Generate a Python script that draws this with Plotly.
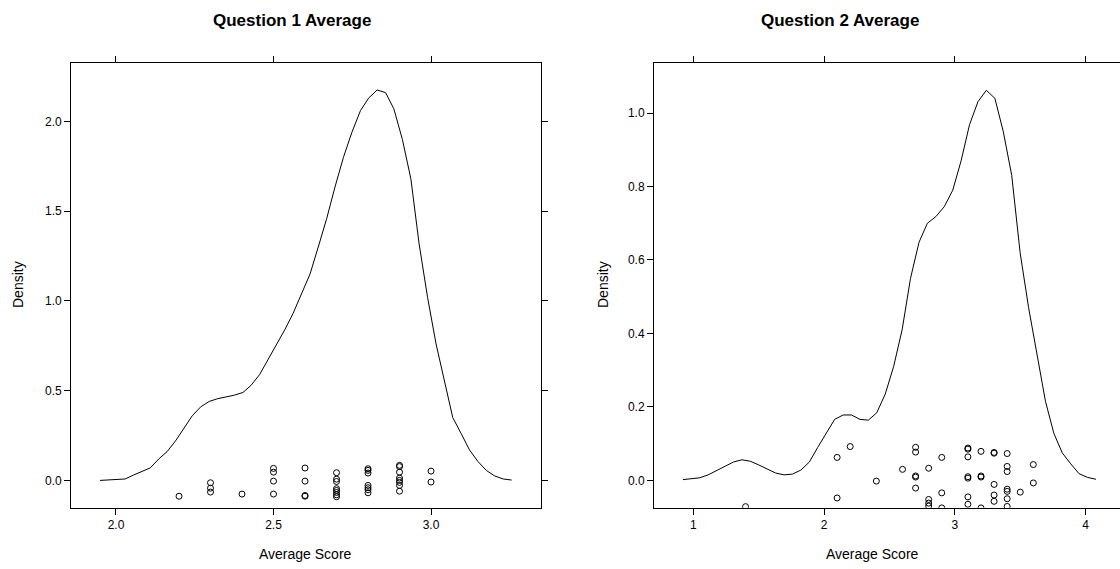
import plotly.graph_objects as go

W, H = 1120, 569

# ---------------- data ----------------
q1_density_x = [1.949, 1.976, 2.002, 2.029, 2.056, 2.082, 2.109, 2.136, 2.162, 2.189,
                2.216, 2.242, 2.269, 2.296, 2.322, 2.349, 2.376, 2.403, 2.429, 2.456,
                2.482, 2.509, 2.536, 2.562, 2.589, 2.616, 2.642, 2.669, 2.696, 2.722,
                2.749, 2.776, 2.802, 2.829, 2.856, 2.882, 2.909, 2.936, 2.962, 2.989,
                3.016, 3.042, 3.069, 3.096, 3.122, 3.149, 3.176, 3.202, 3.229, 3.256]
q1_density_y = [0.000, 0.002, 0.004, 0.008, 0.030, 0.050, 0.070, 0.120, 0.160, 0.220,
                0.290, 0.360, 0.410, 0.440, 0.455, 0.465, 0.475, 0.490, 0.530, 0.590,
                0.670, 0.760, 0.840, 0.930, 1.040, 1.150, 1.300, 1.460, 1.640, 1.800,
                1.940, 2.060, 2.130, 2.175, 2.160, 2.070, 1.900, 1.680, 1.320, 1.020,
                0.760, 0.550, 0.350, 0.260, 0.170, 0.105, 0.055, 0.025, 0.008, 0.002]

q1_points_x = [2.2,
               2.3, 2.3, 2.3,
               2.4,
               2.5, 2.5, 2.5, 2.5,
               2.6, 2.6, 2.6, 2.6,
               2.7, 2.7, 2.7, 2.7, 2.7, 2.7, 2.7, 2.7,
               2.8, 2.8, 2.8, 2.8, 2.8, 2.8, 2.8,
               2.9, 2.9, 2.9, 2.9, 2.9, 2.9, 2.9, 2.9,
               3.0, 3.0]
q1_points_y = [-0.088,
               -0.013, -0.043, -0.065,
               -0.076,
               0.067, 0.046, -0.004, -0.076,
               0.069, -0.004, -0.084, -0.088,
               0.043, 0.007, -0.006, -0.046, -0.056, -0.067, -0.080, -0.091,
               0.065, 0.056, 0.041, -0.028, -0.041, -0.052, -0.069,
               0.084, 0.077, 0.046, 0.013, 0.000, -0.011, -0.028, -0.060,
               0.052, -0.009]

q2_density_x = [0.921, 0.985, 1.050, 1.114, 1.179, 1.243, 1.308, 1.372, 1.437, 1.501,
                1.566, 1.630, 1.694, 1.759, 1.823, 1.888, 1.952, 2.017, 2.081, 2.146,
                2.210, 2.275, 2.339, 2.403, 2.468, 2.532, 2.597, 2.661, 2.726, 2.790,
                2.855, 2.919, 2.984, 3.048, 3.112, 3.177, 3.241, 3.306, 3.370, 3.435,
                3.499, 3.564, 3.628, 3.693, 3.757, 3.821, 3.886, 3.950, 4.015, 4.079]
q2_density_y = [0.002, 0.004, 0.007, 0.015, 0.027, 0.039, 0.050, 0.056, 0.052, 0.042,
                0.030, 0.020, 0.015, 0.017, 0.028, 0.050, 0.090, 0.130, 0.166, 0.178,
                0.178, 0.166, 0.164, 0.184, 0.235, 0.310, 0.410, 0.550, 0.648, 0.700,
                0.718, 0.745, 0.790, 0.870, 0.968, 1.031, 1.062, 1.040, 0.950, 0.830,
                0.620, 0.470, 0.338, 0.215, 0.128, 0.075, 0.045, 0.018, 0.008, 0.003]

q2_points_x = [1.4,
               2.1, 2.1,
               2.2,
               2.4,
               2.6,
               2.7, 2.7, 2.7, 2.7, 2.7,
               2.8, 2.8, 2.8, 2.8,
               2.9, 2.9, 2.9,
               3.1, 3.1, 3.1, 3.1, 3.1, 3.1, 3.1,
               3.2, 3.2, 3.2, 3.2,
               3.3, 3.3, 3.3, 3.3, 3.3,
               3.4, 3.4, 3.4, 3.4, 3.4, 3.4, 3.4,
               3.5,
               3.6, 3.6]
q2_points_y = [-0.0715,
               0.0625, -0.048,
               0.092,
               -0.002,
               0.030,
               0.090, 0.077, 0.012, 0.009, -0.021,
               0.033, -0.052, -0.062, -0.070,
               0.0625, -0.034, -0.075,
               0.088, 0.085, 0.064, 0.010, 0.006, -0.045, -0.065,
               0.079, 0.012, 0.009, -0.075,
               0.076, 0.074, -0.011, -0.040, -0.057,
               0.073, 0.038, 0.024, -0.024, -0.030, -0.050, -0.071,
               -0.032,
               0.043, -0.007]

q1_xticks = [2.0, 2.5, 3.0]
q1_xtick_labels = ["2.0", "2.5", "3.0"]
q1_yticks = [0.0, 0.5, 1.0, 1.5, 2.0]
q1_ytick_labels = ["0.0", "0.5", "1.0", "1.5", "2.0"]
q2_xticks = [1, 2, 3, 4]
q2_xtick_labels = ["1", "2", "3", "4"]
q2_yticks = [0.0, 0.2, 0.4, 0.6, 0.8, 1.0]
q2_ytick_labels = ["0.0", "0.2", "0.4", "0.6", "0.8", "1.0"]

titles = ["Question 1 Average", "Question 2 Average"]
x_label = "Average Score"
y_label = "Density"

# ---------------- layout geometry ----------------
FONT = "Liberation Sans, Arial, Helvetica, sans-serif"
box_top, box_bottom = 62.7, 507.7
ydom = [(H - box_bottom) / H, (H - box_top) / H]
x1dom = [71.1 / W, 540.5 / W]
x2dom = [654.0 / W, 1.0]

q1_xrange = [1.8575, 3.3475]
q1_yrange = [-0.152, 2.327]
q2_xrange = [0.70, 0.70 + (W - 654.0) / 130.8]
q2_yrange = [-0.0744, 1.137]

fig = go.Figure()

line_style = dict(color="black", width=1)
marker_style = dict(symbol="circle-open", size=6, color="black", line=dict(width=1, color="black"))

fig.add_trace(go.Scatter(x=q1_density_x, y=q1_density_y, mode="lines", line=line_style,
                         xaxis="x", yaxis="y", showlegend=False, hoverinfo="skip"))
fig.add_trace(go.Scatter(x=q1_points_x, y=q1_points_y, mode="markers", marker=marker_style,
                         xaxis="x", yaxis="y", showlegend=False))
fig.add_trace(go.Scatter(x=q2_density_x, y=q2_density_y, mode="lines", line=line_style,
                         xaxis="x2", yaxis="y2", showlegend=False, hoverinfo="skip"))
fig.add_trace(go.Scatter(x=q2_points_x, y=q2_points_y, mode="markers", marker=marker_style,
                         xaxis="x2", yaxis="y2", showlegend=False))

tickfont = dict(family=FONT, size=12, color="black")
common = dict(showline=True, linecolor="black", linewidth=1, ticks="outside", ticklen=6,
              tickcolor="black", tickwidth=1, showgrid=False, zeroline=False,
              tickfont=tickfont, fixedrange=True)

fig.update_layout(
    width=W, height=H,
    margin=dict(l=0, r=0, t=0, b=0),
    paper_bgcolor="white", plot_bgcolor="white",
    xaxis=dict(domain=x1dom, range=q1_xrange, anchor="y", tickvals=q1_xticks,
               ticktext=q1_xtick_labels, **common),
    yaxis=dict(domain=ydom, range=q1_yrange, anchor="x", tickvals=q1_yticks,
               ticktext=q1_ytick_labels, **common),
    xaxis3=dict(domain=x1dom, range=q1_xrange, anchor="y", overlaying="x", side="top",
                tickvals=q1_xticks, showticklabels=False, **common),
    yaxis3=dict(domain=ydom, range=q1_yrange, anchor="x", overlaying="y", side="right",
                tickvals=q1_yticks, showticklabels=False, **common),
    xaxis2=dict(domain=x2dom, range=q2_xrange, anchor="y2", tickvals=q2_xticks,
                ticktext=q2_xtick_labels, **common),
    yaxis2=dict(domain=ydom, range=q2_yrange, anchor="x2", tickvals=q2_yticks,
                ticktext=q2_ytick_labels, **common),
    xaxis4=dict(domain=x2dom, range=q2_xrange, anchor="y2", overlaying="x2", side="top",
                tickvals=q2_xticks, showticklabels=False, **common),
)

# empty traces so the overlay (top / right tick) axes render
fig.add_trace(go.Scatter(x=[None], y=[None], xaxis="x3", yaxis="y3", showlegend=False))
fig.add_trace(go.Scatter(x=[None], y=[None], xaxis="x4", yaxis="y2", showlegend=False))

ann = []
title_font = dict(family=FONT, size=17, color="black")
label_font = dict(family=FONT, size=14, color="black")
for cx, t in [(292, titles[0]), (840, titles[1])]:
    ann.append(dict(x=cx / W, y=1 - 21 / H, xref="paper", yref="paper", text="<b>%s</b>" % t,
                    showarrow=False, font=title_font, xanchor="center", yanchor="middle"))
for cx in [305.8, 872]:
    ann.append(dict(x=cx / W, y=1 - 554 / H, xref="paper", yref="paper", text=x_label,
                    showarrow=False, font=label_font, xanchor="center", yanchor="middle"))
for cx in [18, 603]:
    ann.append(dict(x=cx / W, y=1 - 285 / H, xref="paper", yref="paper", text=y_label,
                    showarrow=False, font=label_font, textangle=-90,
                    xanchor="center", yanchor="middle"))
fig.update_layout(annotations=ann)

fig.write_html("out.html")
